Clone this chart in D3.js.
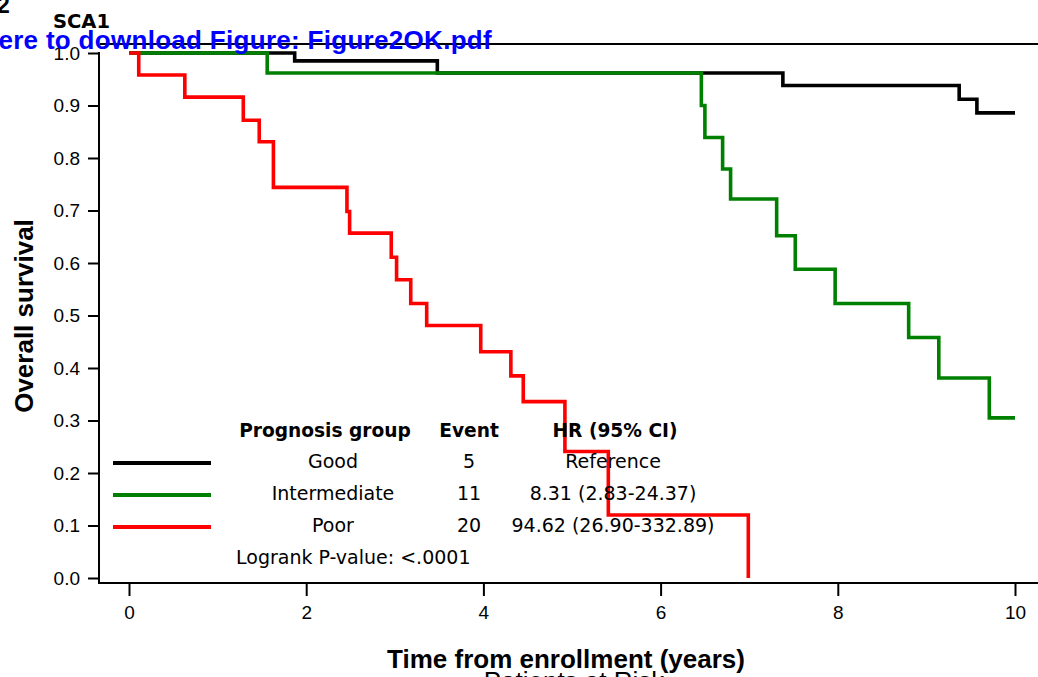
<!DOCTYPE html>
<html>
<head>
<meta charset="utf-8">
<script src="https://d3js.org/d3.v7.min.js"></script>
<style>
    body { margin: 0; background: #fff; overflow: hidden; }
    .tick text { font-family: "Liberation Sans", Arial, sans-serif; font-size: 19px; fill: #000; }
    .tick line { stroke: #000; stroke-width: 2px; }
    .legend text { font-family: "DejaVu Sans", sans-serif; fill: #000; }
</style>
</head>
<body>
<div id="chart-area"></div>
<script>

// Kaplan-Meier steps (years, survival)
var goodTimes = [0, 1.87, 3.48, 7.38, 9.37, 9.57, 10];
var goodSurv  = [1, 0.985, 0.962, 0.938, 0.912, 0.886, 0.886];

var interTimes = [0, 1.56, 6.46, 6.50, 6.70, 6.79, 7.31, 7.52, 7.97, 8.80, 9.14, 9.71, 10];
var interSurv  = [1, 0.962, 0.900, 0.839, 0.779, 0.722, 0.652, 0.588, 0.523, 0.458, 0.381, 0.305, 0.305];

var poorTimes = [0, 0.11, 0.63, 1.29, 1.47, 1.63, 2.46, 2.49, 2.96, 3.02, 3.18, 3.36, 3.97, 4.31, 4.45, 4.92, 5.41, 6.99];
var poorSurv  = [1, 0.958, 0.916, 0.872, 0.831, 0.744, 0.698, 0.657, 0.611, 0.568, 0.523, 0.481, 0.431, 0.385, 0.336, 0.241, 0.120, 0.0];

// Legend table
var groups = ["Good", "Intermediate", "Poor"];
var events = ["5", "11", "20"];
var hazards = ["Reference", "8.31 (2.83-24.37)", "94.62 (26.90-332.89)"];
var colors = ["#000000", "#008000", "#ff0000"];

var xTicks = [0, 2, 4, 6, 8, 10];
var yTicks = [0, 0.1, 0.2, 0.3, 0.4, 0.5, 0.6, 0.7, 0.8, 0.9, 1.0];

var width = 1038,
    height = 677;

var svg = d3.select("#chart-area").append("svg")
    .attr("width", width)
    .attr("height", height);

// Scales
var x = d3.scaleLinear().domain([0, 10]).range([129, 1015]);
var y = d3.scaleLinear().domain([0, 1]).range([578, 53]);

// Header bits (cut off on the page)
svg.append("text")
    .attr("x", -3)
    .attr("y", 13)
    .attr("font-family", "Liberation Sans, Arial, sans-serif")
    .attr("font-weight", "bold")
    .attr("font-size", "23px")
    .text("2");

svg.append("text")
    .attr("x", 53)
    .attr("y", 28)
    .attr("font-family", "DejaVu Sans, sans-serif")
    .attr("font-weight", "bold")
    .attr("font-size", "19.5px")
    .text("SCA1");

// Frame lines
svg.append("line")
    .attr("x1", 100).attr("x2", width)
    .attr("y1", 44).attr("y2", 44)
    .attr("stroke", "#000").attr("stroke-width", 2);

svg.append("line")
    .attr("x1", 99).attr("x2", 99)
    .attr("y1", 52).attr("y2", 584)
    .attr("stroke", "#000").attr("stroke-width", 2);

svg.append("line")
    .attr("x1", 98).attr("x2", width)
    .attr("y1", 583).attr("y2", 583)
    .attr("stroke", "#000").attr("stroke-width", 2);

// Axes
var yAxis = svg.append("g")
    .attr("transform", "translate(99,0)")
    .call(d3.axisLeft(y)
        .tickValues(yTicks)
        .tickFormat(d3.format(".1f"))
        .tickSize(11)
        .tickPadding(8));
yAxis.select(".domain").remove();

var xAxis = svg.append("g")
    .attr("transform", "translate(0,583)")
    .call(d3.axisBottom(x)
        .tickValues(xTicks)
        .tickFormat(d3.format("d"))
        .tickSize(13)
        .tickPadding(10));
xAxis.select(".domain").remove();

// Axis labels
svg.append("text")
    .attr("transform", "translate(33,316) rotate(-90)")
    .attr("text-anchor", "middle")
    .attr("font-family", "Liberation Sans, Arial, sans-serif")
    .attr("font-weight", "bold")
    .attr("font-size", "26px")
    .text("Overall survival");

svg.append("text")
    .attr("x", 566)
    .attr("y", 668)
    .attr("text-anchor", "middle")
    .attr("font-family", "Liberation Sans, Arial, sans-serif")
    .attr("font-weight", "bold")
    .attr("font-size", "26px")
    .text("Time from enrollment (years)");

svg.append("text")
    .attr("x", 574)
    .attr("y", 690)
    .attr("text-anchor", "middle")
    .attr("font-family", "Liberation Sans, Arial, sans-serif")
    .attr("font-size", "26px")
    .text("Patients at Risk");

// Survival curves
var line = d3.line()
    .curve(d3.curveStepAfter)
    .x(function(d){ return x(d[0]); })
    .y(function(d){ return y(d[1]); });

var curves = [
    d3.zip(goodTimes, goodSurv),
    d3.zip(interTimes, interSurv),
    d3.zip(poorTimes, poorSurv)
];

curves.forEach(function(c, i){
    svg.append("path")
        .attr("fill", "none")
        .attr("stroke", colors[i])
        .attr("stroke-width", 3.6)
        .attr("d", line(c));
});

// Legend table
var legend = svg.append("g").attr("class", "legend");

legend.append("text")
    .attr("x", 325).attr("y", 437)
    .attr("text-anchor", "middle")
    .attr("font-weight", "bold")
    .attr("font-size", "18.6px")
    .text("Prognosis group");

legend.append("text")
    .attr("x", 469).attr("y", 437)
    .attr("text-anchor", "middle")
    .attr("font-weight", "bold")
    .attr("font-size", "18.6px")
    .text("Event");

legend.append("text")
    .attr("x", 615).attr("y", 437)
    .attr("text-anchor", "middle")
    .attr("font-weight", "bold")
    .attr("font-size", "18.6px")
    .text("HR (95% CI)");

var rowY = [468, 500, 532];

groups.forEach(function(g, i){
    legend.append("line")
        .attr("x1", 113).attr("x2", 211)
        .attr("y1", rowY[i] - 5).attr("y2", rowY[i] - 5)
        .attr("stroke", colors[i])
        .attr("stroke-width", 4);

    legend.append("text")
        .attr("x", 333).attr("y", rowY[i])
        .attr("text-anchor", "middle")
        .attr("font-size", "19px")
        .text(g);

    legend.append("text")
        .attr("x", 469).attr("y", rowY[i])
        .attr("text-anchor", "middle")
        .attr("font-size", "19px")
        .text(events[i]);

    legend.append("text")
        .attr("x", 613).attr("y", rowY[i])
        .attr("text-anchor", "middle")
        .attr("font-size", "19px")
        .text(hazards[i]);
});

legend.append("text")
    .attr("x", 236).attr("y", 564)
    .attr("font-size", "19px")
    .text("Logrank P-value: <.0001");

// Download link overlay (cut at left edge)
svg.append("text")
    .attr("x", 492)
    .attr("y", 49)
    .attr("text-anchor", "end")
    .attr("font-family", "Liberation Sans, Arial, sans-serif")
    .attr("font-weight", "bold")
    .attr("font-size", "26px")
    .attr("letter-spacing", "0.3px")
    .attr("fill", "#0000ff")
    .text("Click here to download Figure: Figure2OK.pdf");

</script>
</body>
</html>
